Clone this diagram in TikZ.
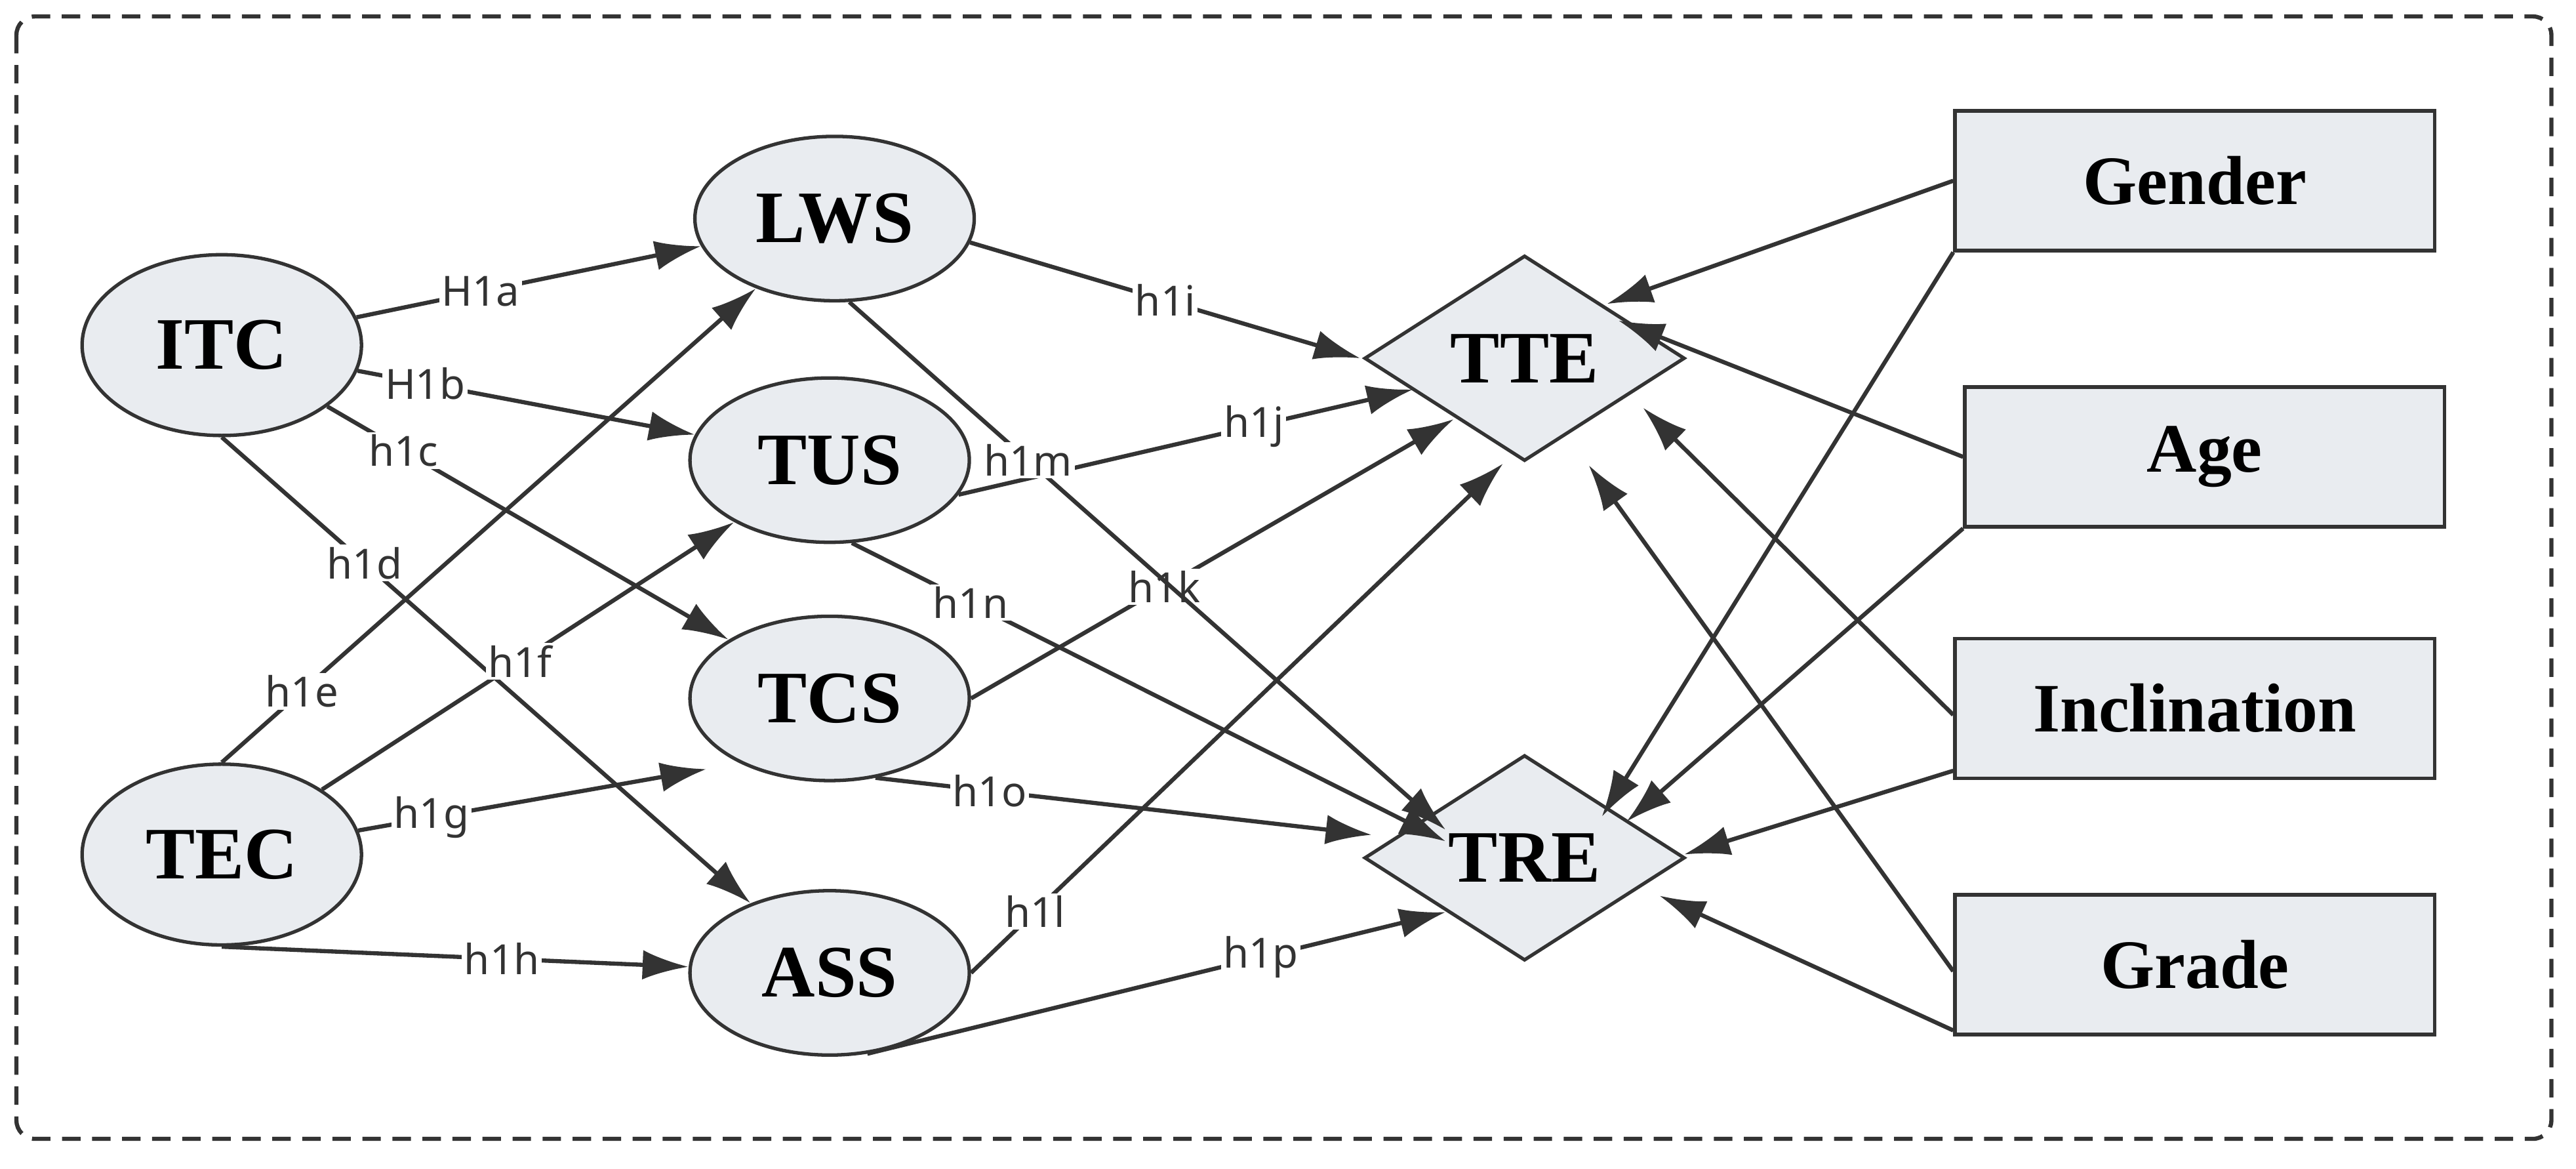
\documentclass[tikz,border=0pt]{standalone}
\usepackage{fontspec}
\setmainfont{Liberation Serif}
\newfontfamily\lab{Noto Sans}
\usetikzlibrary{shapes.geometric,arrows.meta}
\definecolor{nodefill}{HTML}{E9ECF0}
\definecolor{ln}{HTML}{333333}
\begin{document}
\begin{tikzpicture}[x=0.025cm,y=-0.025cm,
 ell/.style={ellipse,draw=ln,line width=1.5pt,fill=nodefill,minimum width=4.25cm,minimum height=2.5cm,inner sep=0pt,font=\fontsize{32}{34}\selectfont\bfseries},
 dia/.style={diamond,draw=ln,line width=1.5pt,fill=nodefill,minimum width=4.875cm,minimum height=3.125cm,aspect=1.56,inner sep=0pt,font=\fontsize{32}{34}\selectfont\bfseries},
 box/.style={rectangle,draw=ln,line width=1.5pt,fill=nodefill,minimum width=7.3cm,minimum height=2.125cm,inner sep=0pt,font=\fontsize{30}{32}\selectfont\bfseries},
 ar/.style={draw=ln,line width=1.8pt,-{Latex[length=0.7cm,width=0.45cm]}},
 lb/.style={fill=white,inner sep=1pt,font=\lab\fontsize{18}{20}\selectfont,text=ln}]
\useasboundingbox (0,0) rectangle (1568,711);
\draw[ln,line width=1.8pt,dash pattern=on 8pt off 5pt,rounded corners=8pt] (10,10) rectangle (1553,693);
\node[ell,minimum height=2.75cm] (itc) at (135,210) {ITC};
\node[ell,minimum height=2.75cm] (tec) at (135,520) {TEC};
\node[ell] (lws) at (508,133) {LWS};
\node[ell] (tus) at (505,280) {TUS};
\node[ell] (tcs) at (505,425) {TCS};
\node[ell] (ass) at (505,592) {ASS};
\node[dia] (tte) at (928,218) {TTE};
\node[dia] (tre) at (928,522) {TRE};
\node[box] (gender) at (1336,110) {Gender};
\node[box] (age) at (1342,278) {Age};
\node[box] (incl) at (1336,431) {Inclination};
\node[box] (grade) at (1336,587) {Grade};
\coordinate (tcsb) at (430,468);
\coordinate (ti) at (828,218); \coordinate (tj) at (860,237);
\coordinate (tk) at (885,255); \coordinate (tl) at (915,282);
\coordinate (rm) at (880,505); \coordinate (rn) at (880,512);
\coordinate (ro) at (835,508); \coordinate (rp) at (880,555);
\draw[ar] (itc) -- node[lb,pos=0.36]{H1a} (lws);
\draw[ar] (itc) -- node[lb,pos=0.2]{H1b} (tus);
\draw[ar] (itc) -- node[lb,pos=0.19]{h1c} (tcs);
\draw[ar] (itc.south) -- node[lb,pos=0.27]{h1d} (ass);
\draw[ar] (tec.north) -- node[lb,pos=0.15]{h1e} (lws);
\draw[ar] (tec) -- node[lb,pos=0.48]{h1f} (tus);
\draw[ar] (tec) -- node[lb,pos=0.21]{h1g} (tcsb);
\draw[ar] (tec.south) -- node[lb,pos=0.6]{h1h} (ass);
\draw[ar] (lws.-10) -- node[lb,pos=0.5]{h1i} (ti);
\draw[ar] (tus.-15) -- node[lb,pos=0.65]{h1j} (tj);
\draw[ar] (tcs.east) -- node[lb,pos=0.4]{h1k} (tk);
\draw[ar] (ass.east) -- node[lb,pos=0.12]{h1l} (tl);
\draw[ar] (lws.-80) -- node[lb,pos=0.3]{h1m} (rm);
\draw[ar] (tus.-75) -- node[lb,pos=0.2]{h1n} (rn);
\draw[ar] (tcs.-60) -- node[lb,pos=0.23]{h1o} (ro);
\draw[ar] (ass.-65) -- node[lb,pos=0.68]{h1p} (rp);
\coordinate (t1) at (978,185); \coordinate (t2) at (985,195);
\coordinate (t3) at (1000,248); \coordinate (t4) at (967,283);
\coordinate (r1) at (975,497); \coordinate (r2) at (990,500);
\coordinate (r3) at (1025,520); \coordinate (r4) at (1010,545);
\draw[ar] (gender.west) -- (t1);
\draw[ar] (gender.south west) -- (r1);
\draw[ar] (age.west) -- (t2);
\draw[ar] (age.south west) -- (r2);
\draw[ar] ([yshift=-0.1cm]incl.west) -- (t3);
\draw[ar] ([yshift=-0.95cm]incl.west) -- (r3);
\draw[ar] ([yshift=-0.1cm]grade.west) -- (t4);
\draw[ar] ([yshift=-1cm]grade.west) -- (r4);
\end{tikzpicture}
\end{document}
